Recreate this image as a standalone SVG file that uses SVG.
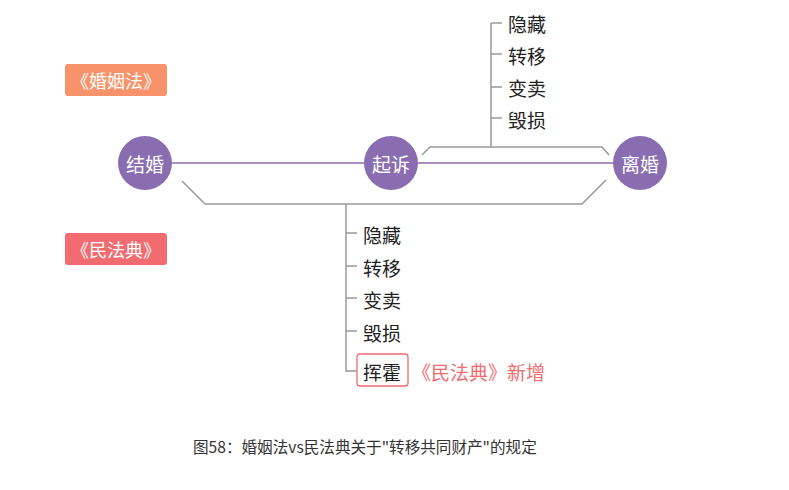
<svg xmlns="http://www.w3.org/2000/svg" width="789" height="490" viewBox="0 0 789 490">
<style>
.node circle{fill:#8A6DB0}
.node text{fill:#fff;font-size:19px;text-anchor:middle;dominant-baseline:central}
text{font-family:"Noto Sans CJK SC","Noto Sans",sans-serif}
.gray{fill:none;stroke:#999;stroke-width:1.5}
.purple{fill:none;stroke:#8A6DB0;stroke-width:1.5}
.item{fill:#222;font-size:19px;dominant-baseline:central}
.tag text{fill:#fff;font-size:18px;text-anchor:middle;dominant-baseline:central}
</style>
<rect width="789" height="490" fill="#fff"/>
<g id="connectors">
<line class="purple" x1="145" y1="163" x2="640" y2="163"/>
<polyline class="gray" points="422,155 430,147 602,147 609,155"/>
<line class="gray" x1="491" y1="147" x2="491" y2="23"/>
<line class="gray" x1="491" y1="23" x2="502" y2="23"/>
<line class="gray" x1="491" y1="54" x2="502" y2="54"/>
<line class="gray" x1="491" y1="87" x2="502" y2="87"/>
<line class="gray" x1="491" y1="118" x2="502" y2="118"/>
<polyline class="gray" points="182,181 205,204 582,204 606,180"/>
<polyline class="gray" points="346,204 346,371 357,371"/>
<line class="gray" x1="346" y1="233" x2="357" y2="233"/>
<line class="gray" x1="346" y1="266" x2="357" y2="266"/>
<line class="gray" x1="346" y1="298" x2="357" y2="298"/>
<line class="gray" x1="346" y1="331" x2="357" y2="331"/>
</g>
<g id="tag-hunyinfa" class="tag">
<rect x="65" y="64" width="102" height="32" rx="3" fill="#F7936A"/>
<text x="116" y="80">《婚姻法》</text>
</g>
<g id="tag-minfadian" class="tag">
<rect x="65" y="233" width="102" height="32" rx="3" fill="#F26B70"/>
<text x="116" y="249">《民法典》</text>
</g>
<g id="node-jiehun" class="node">
<circle cx="145" cy="163" r="27"/>
<text x="145" y="163">结婚</text>
</g>
<g id="node-qisu" class="node">
<circle cx="391" cy="163" r="27"/>
<text x="391" y="163">起诉</text>
</g>
<g id="node-lihun" class="node">
<circle cx="640" cy="163" r="27"/>
<text x="640" y="163">离婚</text>
</g>
<g id="items-top">
<text class="item" x="508" y="23">隐藏</text>
<text class="item" x="508" y="55">转移</text>
<text class="item" x="508" y="87">变卖</text>
<text class="item" x="508" y="119">毁损</text>
</g>
<g id="items-bottom">
<text class="item" x="363" y="234">隐藏</text>
<text class="item" x="363" y="267">转移</text>
<text class="item" x="363" y="299">变卖</text>
<text class="item" x="363" y="332">毁损</text>
<rect x="357" y="354" width="51" height="32" rx="3" fill="none" stroke="#F26B70" stroke-width="1.3"/>
<text class="item" x="363" y="371">挥霍</text>
<text x="412" y="371" fill="#F26B70" font-size="19" dominant-baseline="central">《民法典》新增</text>
</g>
<text x="193" y="446" fill="#333" font-size="15.6" dominant-baseline="central">图58：婚姻法vs民法典关于"转移共同财产"的规定</text>
</svg>
